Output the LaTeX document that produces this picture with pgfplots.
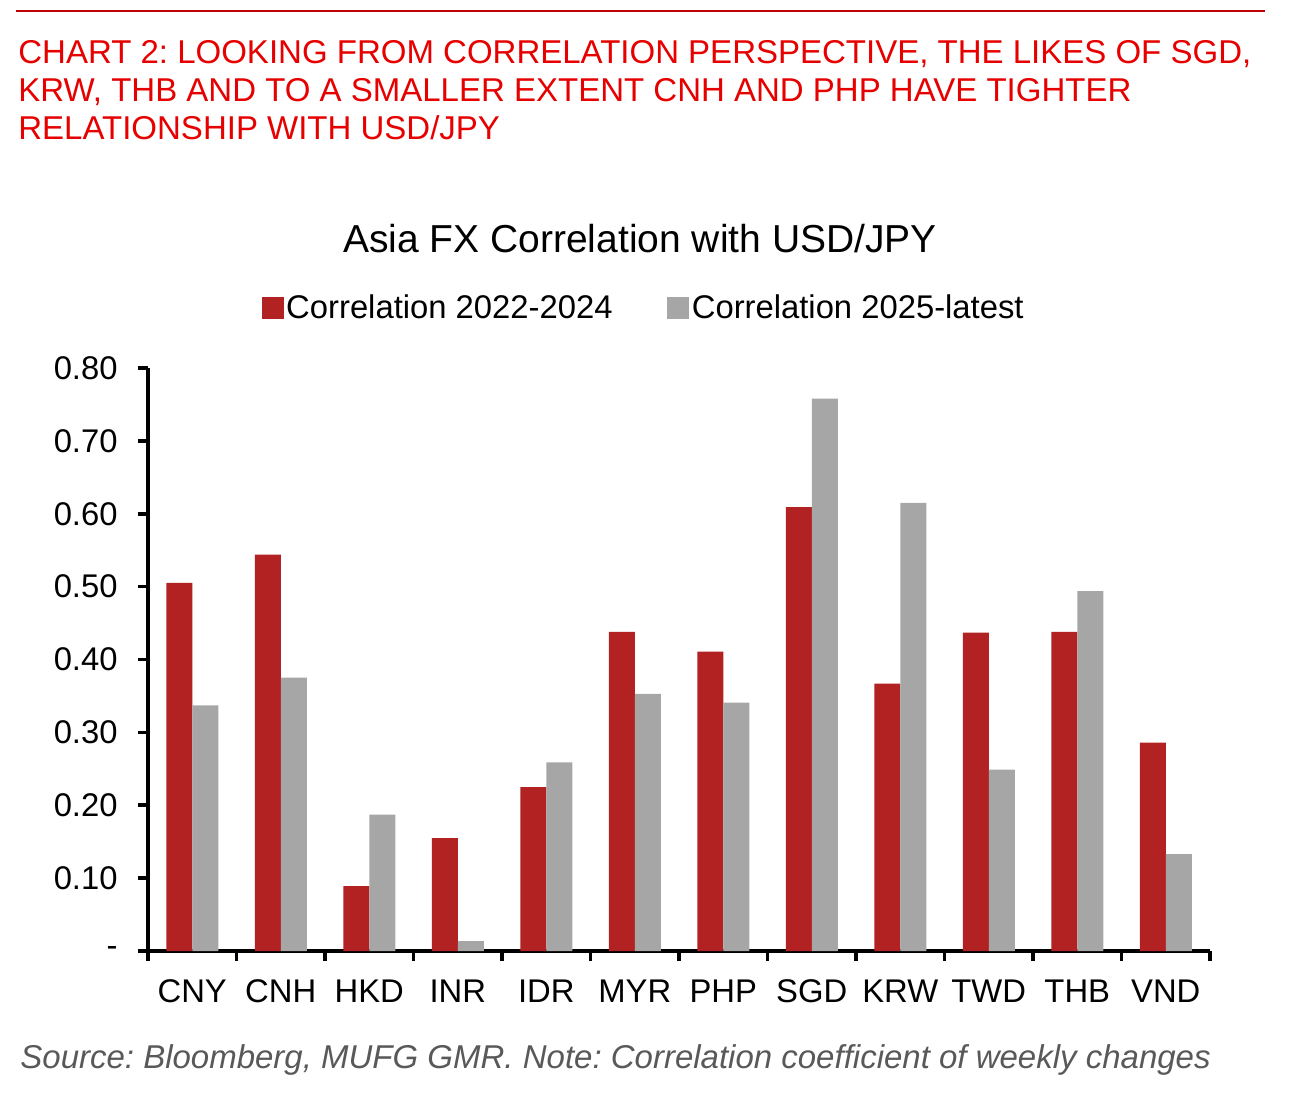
\documentclass[border=0pt]{standalone}
\usepackage{pgfplots}
\pgfplotsset{compat=1.18}
\usepackage{fontspec}
\setmainfont{Liberation Sans}
\definecolor{barred}{RGB}{178,34,34}
\definecolor{bargray}{RGB}{166,166,166}
\definecolor{headred}{RGB}{230,0,0}
\definecolor{linered}{RGB}{192,0,0}
\definecolor{srcgray}{RGB}{89,89,89}
\begin{document}
\frenchspacing
\begin{tikzpicture}
\path[use as bounding box] (0,0) rectangle (650pt,-551pt);
\draw[linered, line width=0.6pt] (8pt,-5.5pt) -- (632.5pt,-5.5pt);
\begin{scope}[every node/.style={anchor=base west, inner sep=0pt, text=headred, font=\fontsize{16.5pt}{19pt}\selectfont}]
\node at (9pt,-32pt) {CHART 2: LOOKING FROM CORRELATION PERSPECTIVE, THE LIKES OF SGD,};
\node at (9pt,-51pt) {KRW, THB AND TO A SMALLER EXTENT CNH AND PHP HAVE TIGHTER};
\node at (9pt,-70pt) {RELATIONSHIP WITH USD/JPY};
\end{scope}
\node[anchor=base, inner sep=0pt, font=\fontsize{19.5pt}{23pt}\selectfont] at (320pt,-126pt) {Asia FX Correlation with USD/JPY};
\node[anchor=base west, inner sep=0pt, text=srcgray, font=\fontsize{16.5pt}{20pt}\selectfont\itshape] at (10pt,-534pt)
 {Source: Bloomberg, MUFG GMR. Note: Correlation coefficient of weekly changes};
\begin{axis}[
  at={(74pt,-475.5pt)}, anchor=south west,
  scale only axis, width=531pt, height=291.5pt,
  ybar=0pt, bar width=13pt,
  xmin=-0.5, xmax=11.5, ymin=0, ymax=0.8,
  axis x line*=bottom, axis y line*=left,
  axis line style={line width=2pt, black, -},
  x axis line style={line width=2pt, black, -},
  y axis line style={line width=2pt, black, -},
  tick style={line width=1.8pt, black},
  tick align=outside,
  major tick length=5pt,
  xtick={-0.5,0.5,...,11.5}, xticklabels={},
  extra x ticks={0,1,2,3,4,5,6,7,8,9,10,11},
  extra x tick labels={CNY,CNH,HKD,INR,IDR,MYR,PHP,SGD,KRW,TWD,THB,VND},
  extra x tick style={major tick length=0pt, xticklabel style={anchor=base, inner sep=0pt, yshift=-25.5pt}},
  ytick={0,0.1,0.2,0.3,0.4,0.5,0.6,0.7,0.8},
  yticklabels={-,0.10,0.20,0.30,0.40,0.50,0.60,0.70,0.80},
  yticklabel style={anchor=east, inner sep=0pt, xshift=-10pt},
  tick label style={font=\fontsize{16.4pt}{19pt}\selectfont},
  legend columns=2,
  legend cell align=left,
  legend style={at={(0.467,1.103)}, anchor=center, draw=none, fill=none,
    font=\fontsize{16.4pt}{19pt}\selectfont, inner sep=0pt,
    cells={anchor=west},
    nodes={inner sep=1.3pt},
    /tikz/every odd column/.append style={column sep=0pt},
    /tikz/every even column/.append style={column sep=26pt}},
  legend image code/.code={\fill[#1] (0pt,-5.5pt) rectangle (11pt,5.5pt);},
]
\addplot[fill=barred, draw=none] coordinates {
 (0,0.505) (1,0.544) (2,0.089) (3,0.155) (4,0.225) (5,0.438)
 (6,0.411) (7,0.609) (8,0.367) (9,0.437) (10,0.438) (11,0.286)};
\addplot[fill=bargray, draw=none] coordinates {
 (0,0.337) (1,0.375) (2,0.187) (3,0.0135) (4,0.259) (5,0.353)
 (6,0.341) (7,0.758) (8,0.615) (9,0.249) (10,0.494) (11,0.133)};
\legend{Correlation 2022-2024, Correlation 2025-latest}
\end{axis}
\end{tikzpicture}
\end{document}
